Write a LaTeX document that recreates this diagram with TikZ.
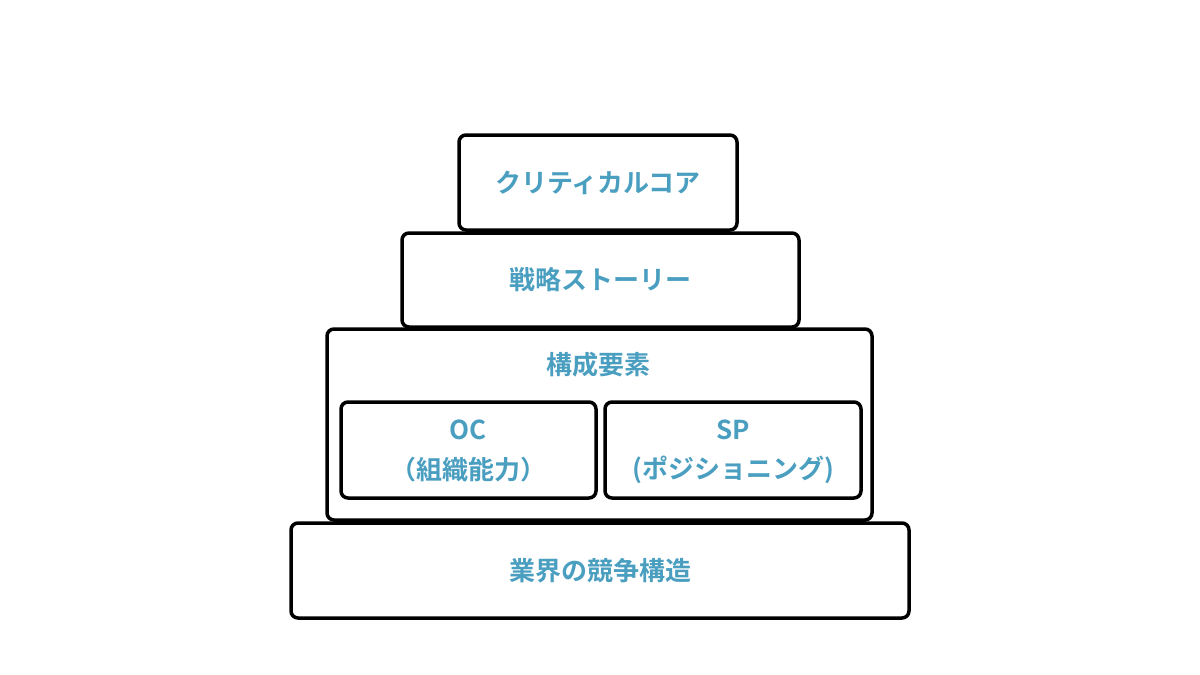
\documentclass[tikz,border=0pt]{standalone}
\usepackage{fontspec}
\newfontfamily\cjk{Noto Sans CJK JP Bold}
\definecolor{tc}{HTML}{4A9EC0}
\begin{document}
\begin{tikzpicture}[x=1pt,y=-1pt,
  box/.style={draw=black,line width=3.5pt,rounded corners=7pt},
  lbl/.style={text=tc,font=\cjk\fontsize{26}{32}\selectfont,inner sep=0pt}]
\useasboundingbox (0,0) rectangle (1200,675);
\draw[box] (459,135) rectangle (737,230);
\draw[box] (402,233) rectangle (799,327);
\draw[box] (327,329) rectangle (872,520);
\draw[box] (341,402) rectangle (596,498);
\draw[box] (605,402) rectangle (861,498);
\draw[box] (291,523) rectangle (909,618);
\node[lbl] (a) at (598,183) {クリティカルコア};
\node[lbl] (b) at (600,280) {戦略ストーリー};
\node[lbl] (c) at (598,365) {構成要素};
\node[lbl] (d1) at (468,430) {OC};
\node[lbl] (d2) at (468,470) {（組織能力）};
\node[lbl] (e1) at (733,430) {SP};
\node[lbl] (e2) at (733,470) {(ポジショニング)};
\node[lbl] (f) at (600,571) {業界の競争構造};
\end{tikzpicture}
\end{document}
